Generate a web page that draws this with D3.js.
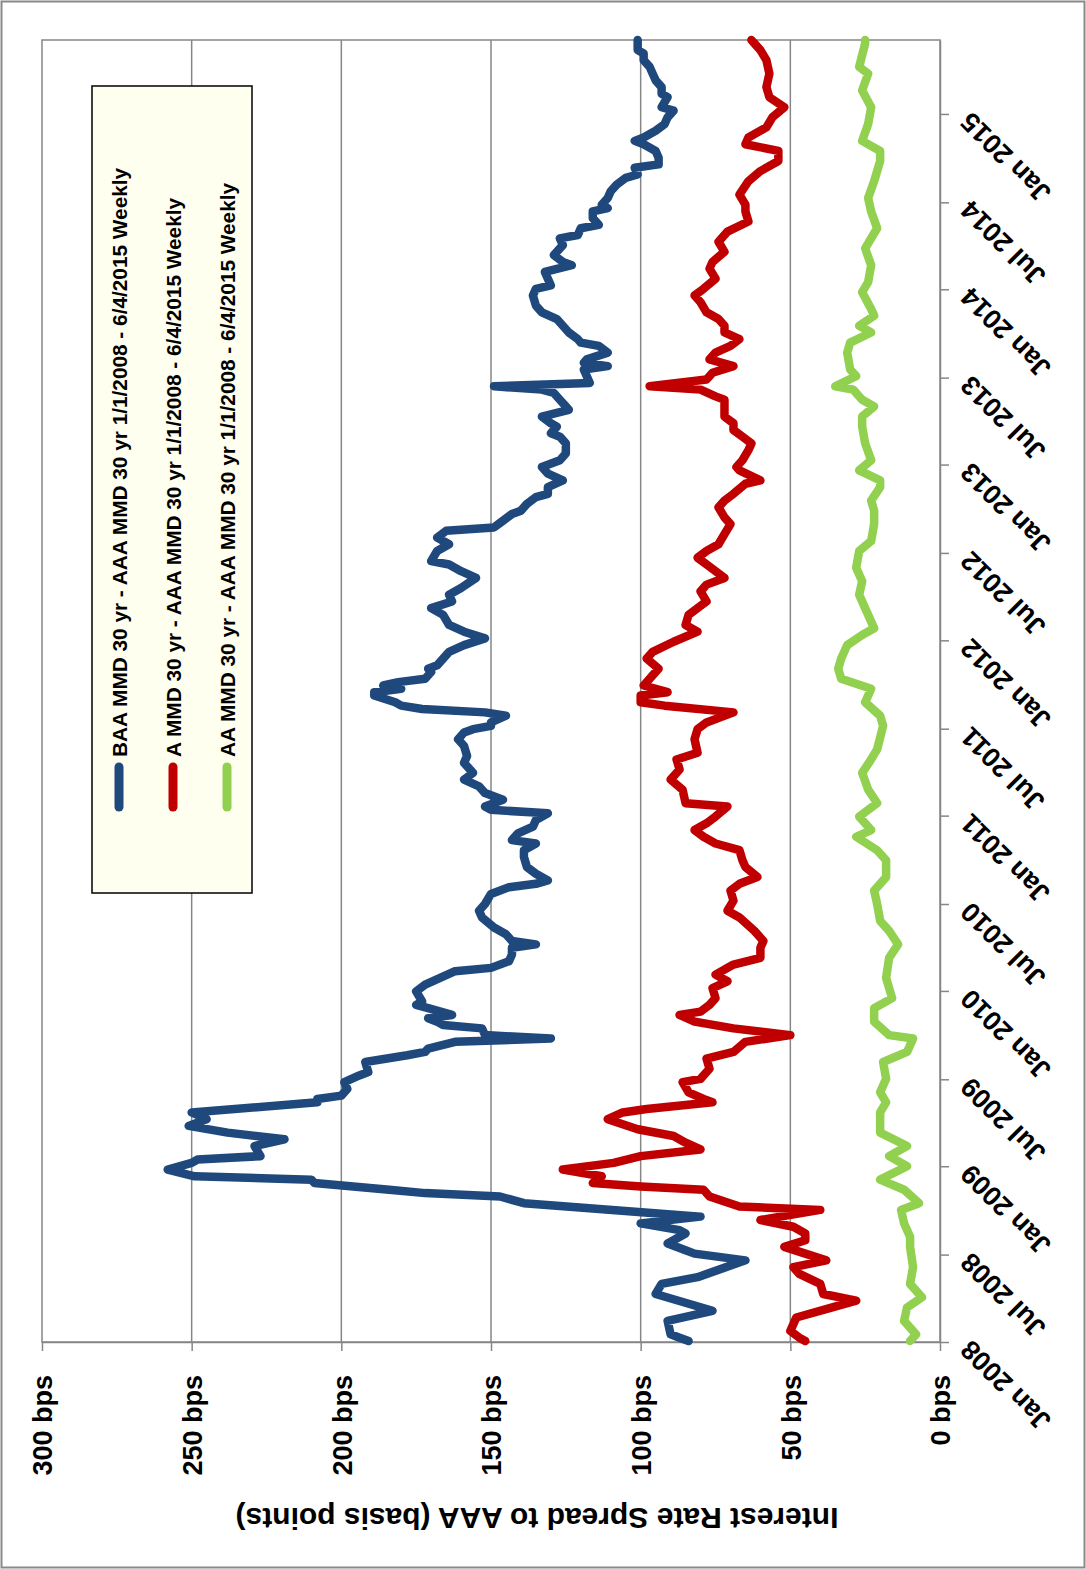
<!DOCTYPE html>
<html>
<head>
<meta charset="utf-8">
<title>Municipal Credit Spreads to AAA MMD 30 yr</title>
<script src="https://cdn.jsdelivr.net/npm/d3@7"></script>
<style>
  body { margin: 0; background: #fff; }
  svg { display: block; }
  text { font-family: "Liberation Sans", Arial, Helvetica, sans-serif; font-weight: bold; fill: #000; }
</style>
</head>
<body>
<svg id="chart" width="1086" height="1569"></svg>
<script>
// ---- Data: weekly spreads to AAA MMD 30 yr, in basis points ----
// Each point is [week number counted from the first observation, spread in bps].
const firstObservation = "2008-01-03";

const seriesNames = [
  "BAA MMD 30 yr - AAA MMD 30 yr 1/1/2008 - 6/4/2015 Weekly",
  "A MMD 30 yr - AAA MMD 30 yr 1/1/2008 - 6/4/2015 Weekly",
  "AA MMD 30 yr - AAA MMD 30 yr 1/1/2008 - 6/4/2015 Weekly"
];
const seriesColors = ["#1F497D", "#C00000", "#92D050"];

const baaSpread = [[0,84],[1,87],[2,90],[6,91],[9,76],[14,95],[17,93],[19,81],[24,65],[26,82],[27,85],[29,91],[32,85],[33,87],[35,100],[37,80],[41,139],[43,147],[44,172],[45,184],[47,209],[48,210],[49,249],[51,258],[53,250],[54,248],[55,227],[58,229],[60,219],[62,238],[64,251],[66,245],[68,250],[71,208],[72,208],[73,200],[75,198],[77,199],[79,194],[80,191],[83,192],[85,178],[86,172],[87,171],[89,162],[90,130],[91,152],[93,153],[94,166],[95,168],[96,171],[97,163],[99,171],[100,175],[101,173],[104,175],[106,172],[108,167],[110,162],[111,150],[113,144],[115,143],[117,143],[118,135],[119,143],[121,145],[123,149],[126,153],[128,154],[130,152],[133,150],[135,144],[136,135],[137,131],[139,135],[141,138],[144,139],[146,139],[148,135],[149,143],[151,141],[153,136],[155,135],[157,131],[158,150],[159,152],[161,146],[163,152],[165,154],[167,159],[169,156],[172,159],[174,158],[177,159],[179,161],[181,159],[182,156],[183,150],[184,150],[186,145],[187,152],[188,173],[189,180],[190,182],[192,189],[193,189],[194,180],[195,186],[196,181],[197,172],[199,170],[200,171],[201,168],[203,166],[205,164],[207,159],[209,152],[211,159],[213,164],[216,166],[218,170],[220,163],[222,164],[224,160],[227,155],[229,160],[231,164],[232,170],[235,168],[237,164],[239,168],[241,165],[242,149],[244,146],[246,143],[247,140],[249,138],[251,135],[252,131],[254,131],[256,126],[258,131],[260,133],[262,127],[264,125],[267,125],[269,127],[270,130],[272,128],[273,130],[275,133],[277,124],[278,125],[280,127],[282,129],[283,133],[284,149],[285,117],[287,118],[289,119],[290,111],[291,119],[292,118],[294,111],[296,114],[297,120],[298,121],[300,124],[302,126],[304,128],[306,133],[308,135],[311,136],[313,135],[314,130],[316,131],[318,132],[320,123],[321,126],[323,129],[326,126],[328,127],[329,121],[331,120],[332,114],[334,116],[336,116],[337,111],[338,113],[340,111],[342,110],[344,108],[346,105],[347,101],[349,102],[350,94],[352,94],[354,95],[356,99],[357,102],[358,99],[360,95],[362,92],[364,91],[366,89],[367,93],[370,91],[371,93],[373,93],[375,95],[377,96],[379,97],[381,99],[383,99],[384,101],[387,101]];

const aSpread = [[0,45],[1,47],[3,50],[5,49],[7,48],[10,36],[12,28],[14,39],[17,40],[20,47],[22,49],[24,38],[26,45],[28,52],[30,45],[32,45],[34,49],[36,60],[39,40],[40,67],[43,77],[45,79],[46,100],[47,116],[49,113],[51,126],[53,109],[55,100],[57,80],[59,85],[61,89],[63,101],[66,111],[68,106],[69,98],[71,76],[72,79],[74,84],[77,86],[78,80],[81,77],[84,78],[86,69],[89,65],[91,50],[93,69],[95,82],[97,87],[98,80],[100,77],[102,75],[105,76],[107,71],[109,75],[112,69],[114,60],[117,60],[119,59],[122,62],[126,67],[128,71],[131,69],[134,70],[136,67],[138,61],[141,65],[143,66],[146,67],[148,75],[150,79],[152,82],[154,78],[156,75],[159,71],[160,85],[164,86],[167,90],[170,87],[173,88],[175,81],[179,82],[182,81],[184,78],[187,69],[189,92],[190,100],[192,100],[193,91],[195,99],[198,96],[200,94],[203,98],[205,96],[208,89],[211,81],[213,85],[216,84],[220,78],[223,80],[225,78],[227,72],[229,75],[231,78],[233,81],[235,78],[237,74],[240,72],[243,70],[245,72],[248,74],[250,72],[252,69],[255,65],[256,60],[259,67],[260,68],[262,66],[265,64],[267,63],[269,66],[271,69],[273,69],[275,72],[278,72],[280,72],[281,75],[283,80],[284,97],[286,78],[288,76],[290,69],[292,77],[294,75],[296,70],[298,67],[300,72],[302,72],[304,74],[306,78],[309,80],[311,82],[313,79],[316,75],[319,77],[321,76],[324,72],[327,74],[330,71],[333,64],[336,65],[338,65],[341,67],[345,64],[348,60],[351,54],[354,54],[356,65],[358,64],[361,58],[364,56],[367,52],[370,57],[373,58],[377,57],[381,58],[384,60],[386,62],[387,63]];

const aaSpread = [[0,10],[2,8],[6,12],[10,11],[13,6],[17,10],[22,9],[28,10],[31,10],[35,12],[39,13],[41,7],[45,12],[48,20],[52,11],[55,17],[58,11],[62,20],[64,20],[68,20],[71,18],[74,20],[78,18],[83,19],[86,11],[90,9],[91,17],[95,22],[99,22],[102,16],[108,18],[114,17],[118,14],[122,17],[125,20],[130,21],[134,22],[138,18],[143,18],[146,21],[150,28],[152,23],[156,27],[160,21],[164,24],[169,26],[173,23],[176,21],[183,19],[186,20],[190,25],[194,23],[197,33],[200,34],[203,33],[207,31],[210,26],[212,22],[218,25],[222,27],[226,26],[230,28],[235,27],[238,23],[243,22],[247,22],[250,23],[254,20],[256,20],[259,27],[262,23],[267,25],[272,26],[275,26],[278,22],[280,26],[283,29],[284,35],[287,28],[289,30],[294,31],[297,30],[300,23],[302,27],[305,22],[307,23],[312,26],[315,24],[320,23],[325,25],[331,21],[336,23],[340,24],[345,22],[351,20],[354,20],[357,26],[362,24],[367,23],[372,26],[377,24],[379,27],[386,25],[387,25]];

const valueTicks = [0, 50, 100, 150, 200, 250, 300];
const dateTicks = ["2008-01-01","2008-07-01","2009-01-01","2009-07-01","2010-01-01","2010-07-01",
                   "2011-01-01","2011-07-01","2012-01-01","2012-07-01","2013-01-01","2013-07-01",
                   "2014-01-01","2014-07-01","2015-01-01"];
const dateTickLabels = ["Jan 2008","Jul 2008","Jan 2009","Jul 2009","Jan 2010","Jul 2010",
                        "Jan 2011","Jul 2011","Jan 2012","Jul 2012","Jan 2013","Jul 2013",
                        "Jan 2014","Jul 2014","Jan 2015"];
const dateRange = ["2008-01-01", "2015-06-04"];
const axisTitle = "Interest Rate Spread to AAA (basis points)";

// ---- Layout (chart is drawn turned on its side: time runs upward, spread runs leftward) ----
const W = 1086, H = 1569;
const plot = { left: 42, right: 940, top: 40, bottom: 1342 };
const gridColor = "#868686";

const svg = d3.select("#chart");

const x = d3.scaleLinear().domain([0, 300]).range([plot.right, plot.left]);
const y = d3.scaleUtc()
  .domain(dateRange.map(d => new Date(d + "T00:00:00Z")))
  .range([plot.bottom, plot.top]);
const weekDate = w => d3.utcDay.offset(new Date(firstObservation + "T00:00:00Z"), 7 * w);

// outer frame
svg.append("rect")
  .attr("x", 1.5).attr("y", 1.5).attr("width", W - 3).attr("height", H - 3)
  .attr("fill", "#fff").attr("stroke", "#898989").attr("stroke-width", 2);

// gridlines
svg.append("g").selectAll("line")
  .data(valueTicks.filter(v => v > 0 && v < 300))
  .join("line")
  .attr("x1", d => x(d)).attr("x2", d => x(d))
  .attr("y1", plot.top).attr("y2", plot.bottom)
  .attr("stroke", gridColor).attr("stroke-width", 1.5);

// plot area border
svg.append("rect")
  .attr("x", plot.left).attr("y", plot.top)
  .attr("width", plot.right - plot.left).attr("height", plot.bottom - plot.top)
  .attr("fill", "none").attr("stroke", gridColor).attr("stroke-width", 1.5);

// value axis (bottom)
const valueAxis = svg.append("g")
  .attr("transform", `translate(0,${plot.bottom})`)
  .call(d3.axisBottom(x).tickValues(valueTicks).tickSize(9).tickSizeOuter(0)
        .tickFormat(d => d + " bps"));
valueAxis.select(".domain").attr("stroke", gridColor).attr("stroke-width", 1.5);
valueAxis.selectAll(".tick line").attr("stroke", gridColor).attr("stroke-width", 1.5);
valueAxis.selectAll(".tick text")
  .attr("transform", "rotate(-90)")
  .attr("x", -33).attr("y", 0).attr("dy", "0.36em")
  .attr("text-anchor", "end")
  .style("font-size", "27px");

// date axis (right)
const parseDay = d => new Date(d + "T00:00:00Z");
const dateAxis = svg.append("g")
  .attr("transform", `translate(${plot.right},0)`)
  .call(d3.axisRight(y).tickValues(dateTicks.map(parseDay)).tickSize(9).tickSizeOuter(0)
        .tickFormat((d, i) => dateTickLabels[i]));
dateAxis.select(".domain").attr("stroke", gridColor).attr("stroke-width", 1.5);
dateAxis.selectAll(".tick line").attr("stroke", gridColor).attr("stroke-width", 1.5);
dateAxis.selectAll(".tick text")
  .attr("x", 0).attr("y", 0).attr("dy", "0.36em")
  .attr("transform", "translate(25,3) rotate(-135)")
  .attr("text-anchor", "end")
  .style("font-size", "27px");
svg.selectAll(".tick text").attr("fill", "#000");

// axis title
svg.append("text")
  .attr("transform", "translate(537,1508) rotate(180)")
  .attr("text-anchor", "middle")
  .style("font-size", "30px")
  .text(axisTitle);

// series lines
const line = d3.line()
  .x(d => x(d[1]))
  .y(d => y(weekDate(d[0])));

const seriesData = [baaSpread, aSpread, aaSpread];
svg.append("g").selectAll("path")
  .data(seriesData)
  .join("path")
  .attr("d", line)
  .attr("fill", "none")
  .attr("stroke", (d, i) => seriesColors[i])
  .attr("stroke-width", 8.5)
  .attr("stroke-linejoin", "round")
  .attr("stroke-linecap", "round");

// legend
const legend = svg.append("g");
legend.append("rect")
  .attr("x", 92).attr("y", 86).attr("width", 160).attr("height", 807)
  .attr("fill", "#FFFFF0").attr("stroke", "#000").attr("stroke-width", 1.5);
const items = legend.selectAll("g.item")
  .data(seriesNames)
  .join("g")
  .attr("class", "item")
  .attr("transform", (d, i) => `translate(${119 + 54 * i},0)`);
items.append("line")
  .attr("x1", 0).attr("x2", 0).attr("y1", 767).attr("y2", 807)
  .attr("stroke", (d, i) => seriesColors[i])
  .attr("stroke-width", 9).attr("stroke-linecap", "round");
items.append("text")
  .attr("transform", "translate(0,757) rotate(-90)")
  .attr("dy", "0.36em")
  .attr("text-anchor", "start")
  .style("font-size", "20.8px")
  .text(d => d);
</script>
</body>
</html>
